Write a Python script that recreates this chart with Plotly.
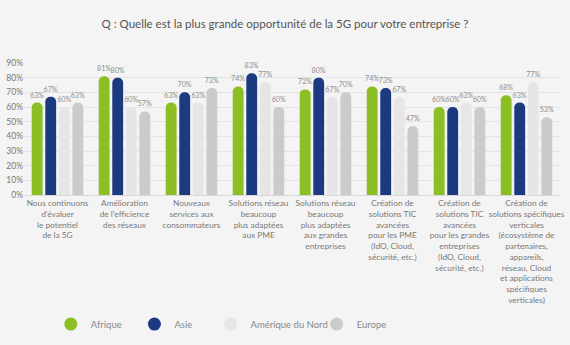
import plotly.graph_objects as go

categories = [
    "Nous continuons<br>d'évaluer<br>le potentiel<br>de la 5G",
    "Amélioration<br>de l'efficience<br>des réseaux",
    "Nouveaux<br>services aux<br>consommateurs",
    "Solutions réseau<br>beaucoup<br>plus adaptées<br>aux PME",
    "Solutions réseau<br>beaucoup<br>plus adaptées<br>aux grandes<br>entreprises",
    "Création de<br>solutions TIC<br>avancées<br>pour les PME<br>(IdO, Cloud,<br>sécurité, etc.)",
    "Création de<br>solutions TIC<br>avancées<br>pour les grandes<br>entreprises<br>(IdO, Cloud,<br>sécurité, etc.)",
    "Création de<br>solutions spécifiques<br>verticales<br>(écosystème de<br>partenaires,<br>appareils,<br>réseau, Cloud<br>et applications<br>spécifiques<br>verticales)",
]
afrique = [63, 81, 63, 74, 72, 74, 60, 68]
asie = [67, 80, 70, 83, 80, 73, 60, 63]
amerique = [60, 60, 63, 77, 67, 67, 63, 77]
europe = [63, 57, 73, 60, 70, 47, 60, 53]
series_names = ["Afrique", "Asie", "Amérique du Nord", "Europe"]
colors = ["#8cbf26", "#1c3a80", "#e6e6e6", "#cbcbcb"]
yticks = [0, 10, 20, 30, 40, 50, 60, 70, 80, 90]

legend_ids = ["legend", "legend2", "legend3", "legend4"]
legend_x = [0.050, 0.206, 0.348, 0.546]

fig = go.Figure()
for name, vals, col, lid in zip(series_names, [afrique, asie, amerique, europe], colors, legend_ids):
    fig.add_trace(go.Bar(
        x=categories, y=vals, name=name, marker=dict(color=col, cornerradius=5, line=dict(width=0)),
        text=[f"{v}%" for v in vals], textposition="outside", constraintext="none",
        textfont=dict(size=7.1, color="#8f8f8f", family="Lato"),
        cliponaxis=False, showlegend=False,
    ))
    fig.add_trace(go.Scatter(
        x=[None], y=[None], mode="markers", name=name, legend=lid,
        marker=dict(color=col, size=13, symbol="circle"),
    ))

legend_common = dict(orientation="h", xanchor="left", y=-0.978, yanchor="middle",
                     font=dict(size=9.5, color="#888888", family="Lato"), itemwidth=30,
                     bgcolor="rgba(0,0,0,0)")

fig.update_layout(
    width=570, height=345,
    paper_bgcolor="#f4f4f4", plot_bgcolor="#f4f4f4",
    margin=dict(l=23, r=6, t=63, b=148),
    barmode="group", bargap=0.19, bargroupgap=0.2,
    font=dict(family="Lato", color="#777777", size=8),
    title=dict(text="Q : Quelle est la plus grande opportunité de la 5G pour votre entreprise ?",
               x=0.5, xanchor="center", y=0.93, yanchor="middle",
               font=dict(size=11.5, color="#555555", family="Lato")),
    showlegend=True,
    legend=dict(x=legend_x[0], **legend_common),
    legend2=dict(x=legend_x[1], **legend_common),
    legend3=dict(x=legend_x[2], **legend_common),
    legend4=dict(x=legend_x[3], **legend_common),
    yaxis=dict(range=[0, 90], tickvals=yticks, ticktext=[f"{v}%" for v in yticks],
               showgrid=True, gridcolor="#e4e4e4", gridwidth=1, zeroline=False,
               tickfont=dict(size=8.5, color="#777777", family="Lato"), ticks="", fixedrange=True),
    xaxis=dict(tickfont=dict(size=8.3, color="#7a7a7a", family="Lato"), showline=True,
               linecolor="#d8d8d8", ticks="", tickangle=0),
)
fig.write_html("out.html")
